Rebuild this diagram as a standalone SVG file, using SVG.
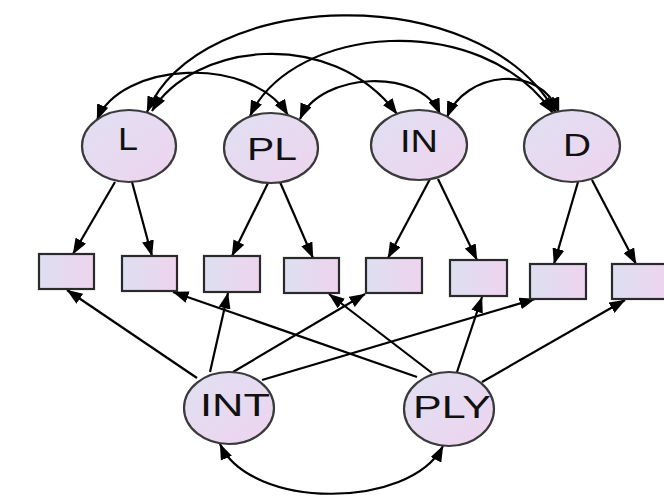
<svg xmlns="http://www.w3.org/2000/svg" width="664" height="496" viewBox="0 0 664 496">
<defs>
<linearGradient id="gc" x1="0" y1="0" x2="1" y2="1">
<stop offset="0" stop-color="#e0e0f2"/>
<stop offset="1" stop-color="#eed4ee"/>
</linearGradient>
<linearGradient id="gr" x1="0" y1="0" x2="1" y2="0">
<stop offset="0" stop-color="#dddff0"/>
<stop offset="1" stop-color="#eed4ee"/>
</linearGradient>
<marker id="ah" viewBox="0 0 16 12" refX="15.5" refY="6" markerWidth="16" markerHeight="12" markerUnits="userSpaceOnUse" orient="auto-start-reverse">
<path d="M0,0 L16,6 L0,12 z" fill="#000"/>
</marker>
</defs>
<style>
.n ellipse{fill:url(#gc);stroke:#3a3a3a;stroke-width:2.2}
.n rect{fill:url(#gr);stroke:#2a2a2a;stroke-width:2.2}
.n text{font-family:"Liberation Sans",Arial,sans-serif;font-size:31px;fill:#111;text-anchor:middle}
.e path{fill:none;stroke:#000;stroke-width:2.2;marker-end:url(#ah)}
.e path.d{marker-start:url(#ah)}
</style>
<g class="e" id="connectors">
<path class="d" d="M147,112 C200,-12 480,-22 556,113"/>
<path class="d" d="M250,116 C292,25 480,8 553,113"/>
<path class="d" d="M152,111 C192,44 330,25 397,114"/>
<path class="d" d="M97,120 C120,62 250,54 288,115"/>
<path class="d" d="M300,119 C320,72 420,67 440,114"/>
<path class="d" d="M447,117 C465,72 540,62 559,113"/>
<path d="M115,182 L73,254"/>
<path d="M132,182 L152,256"/>
<path d="M268,183 L232,256"/>
<path d="M280,182 L313,258"/>
<path d="M430,179 L388,258"/>
<path d="M438,179 L477,260"/>
<path d="M578,182 L554,264"/>
<path d="M592,180 L636,264"/>
<path d="M197,378 L67,290"/>
<path d="M210,372 L228,293"/>
<path d="M233,372 L365,294"/>
<path d="M262,380 L535,299"/>
<path d="M417,377 L173,292"/>
<path d="M432,373 L329,294"/>
<path d="M457,372 L482,297"/>
<path d="M482,382 L625,300"/>
<path class="d" d="M220,444 C250,510 410,510 443,446"/>
</g>
<g class="n" id="node-L"><ellipse cx="129" cy="146" rx="47" ry="36"/><text x="128" y="150" textLength="20" lengthAdjust="spacingAndGlyphs">L</text></g>
<g class="n" id="node-PL"><ellipse cx="271" cy="148" rx="47" ry="35"/><text x="272" y="160" textLength="50" lengthAdjust="spacingAndGlyphs">PL</text></g>
<g class="n" id="node-IN"><ellipse cx="419" cy="145" rx="48" ry="35"/><text x="419" y="152" textLength="38" lengthAdjust="spacingAndGlyphs">IN</text></g>
<g class="n" id="node-D"><ellipse cx="572" cy="146" rx="48" ry="36"/><text x="577" y="156" textLength="28" lengthAdjust="spacingAndGlyphs">D</text></g>
<g class="n" id="node-r1"><rect x="39" y="254" width="55" height="35"/></g>
<g class="n" id="node-r2"><rect x="122" y="256" width="55" height="35"/></g>
<g class="n" id="node-r3"><rect x="204" y="256" width="56" height="36"/></g>
<g class="n" id="node-r4"><rect x="284" y="258" width="55" height="35"/></g>
<g class="n" id="node-r5"><rect x="366" y="258" width="56" height="35"/></g>
<g class="n" id="node-r6"><rect x="450" y="260" width="57" height="36"/></g>
<g class="n" id="node-r7"><rect x="530" y="264" width="56" height="35"/></g>
<g class="n" id="node-r8"><rect x="612" y="264" width="56" height="35"/></g>
<g class="n" id="node-INT"><ellipse cx="229" cy="408" rx="45" ry="36"/><text x="235" y="416" textLength="70" lengthAdjust="spacingAndGlyphs">INT</text></g>
<g class="n" id="node-PLY"><ellipse cx="449" cy="409" rx="45" ry="37"/><text x="452" y="418" textLength="78" lengthAdjust="spacingAndGlyphs">PLY</text></g>
</svg>
